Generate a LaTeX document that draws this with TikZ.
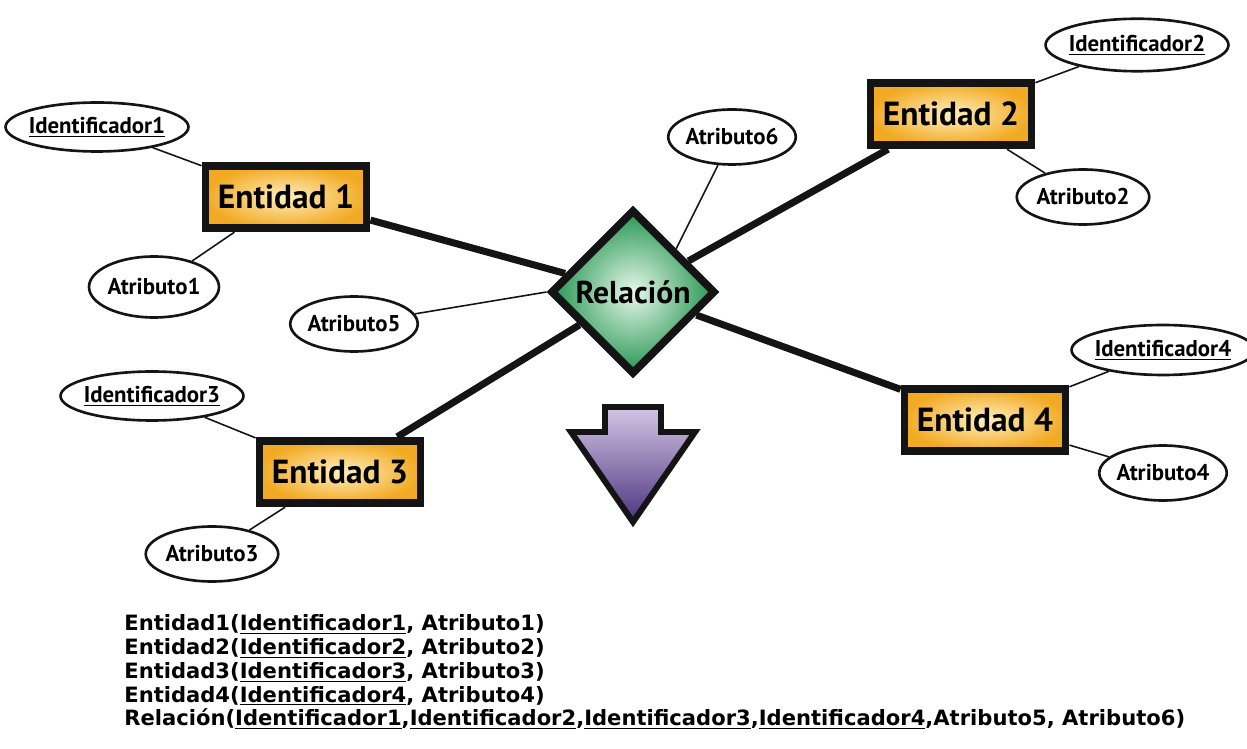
\documentclass[tikz,border=0pt]{standalone}
\usepackage{fontspec}
\usetikzlibrary{shapes.geometric, backgrounds, positioning}
\setmainfont{PT Sans}
\newfontfamily\listafont{DejaVu Sans}
\definecolor{borde}{RGB}{20,20,20}
\definecolor{entclaro}{RGB}{255,240,190}
\definecolor{entoscuro}{RGB}{242,170,36}
\definecolor{relclaro}{RGB}{230,247,234}
\definecolor{reloscuro}{RGB}{38,150,82}
\definecolor{flechaclara}{RGB}{212,198,230}
\definecolor{flechaoscura}{RGB}{76,52,128}

\tikzset{
  entidad/.style={rectangle, draw=borde, line width=4.5pt, inner color=entclaro,
                  outer color=entoscuro, minimum width=3.22cm, minimum height=1.25cm,
                  font=\fontsize{19}{22}\selectfont\bfseries},
  relacion/.style={diamond, draw=borde, line width=4.5pt, inner color=relclaro,
                   outer color=reloscuro, minimum width=3.3cm, minimum height=3.3cm,
                   inner sep=0pt, font=\fontsize{18}{20}\selectfont\bfseries},
  atributo/.style={ellipse, draw=borde, line width=1.5pt, fill=white,
                   inner xsep=-2pt, inner ysep=0pt,
                   font=\fontsize{13}{15}\selectfont\bfseries},
  enlace/.style={draw=borde, line width=4pt},
  rama/.style={draw=borde, line width=0.9pt},
}

\begin{document}
\begin{tikzpicture}[x=0.02cm, y=-0.02cm]
  \useasboundingbox (0,0) rectangle (1247,749);

  % entidades y relacion
  \node[entidad] (ent1) at (286,197) {Entidad 1};
  \node[entidad] (ent2) at (951,114) {Entidad 2};
  \node[entidad] (ent3) at (340,472) {Entidad 3};
  \node[entidad] (ent4) at (985,420) {Entidad 4};
  \node[relacion] (rel) at (633,292) {Relación};

  % atributos
  \node[atributo, minimum width=3.55cm, minimum height=0.98cm] (id1) at (97,127) {\underline{Identificador1}};
  \node[atributo, minimum width=2.6cm, minimum height=1.22cm] (at1) at (154,287) {Atributo1};
  \node[atributo, minimum width=3.2cm, minimum height=1.05cm] (id2) at (1137,45) {\underline{Identificador2}};
  \node[atributo, minimum width=2.65cm, minimum height=1.1cm] (at2) at (1083,197) {Atributo2};
  \node[atributo, minimum width=3.45cm, minimum height=0.98cm] (id3) at (152,396) {\underline{Identificador3}};
  \node[atributo, minimum width=2.65cm, minimum height=1.1cm] (at3) at (212,554) {Atributo3};
  \node[atributo, minimum width=3.25cm, minimum height=1.0cm] (id4) at (1163,350) {\underline{Identificador4}};
  \node[atributo, minimum width=2.55cm, minimum height=1.1cm] (at4) at (1163,473) {Atributo4};
  \node[atributo, minimum width=2.55cm, minimum height=1.1cm] (at5) at (354,324) {Atributo5};
  \node[atributo, minimum width=2.55cm, minimum height=1.1cm] (at6) at (732,137) {Atributo6};

  \begin{scope}[on background layer]
    \draw[enlace] (ent1) -- (rel);
    \draw[enlace] (ent2) -- (rel);
    \draw[enlace] (ent3) -- (rel);
    \draw[enlace] (ent4) -- (rel);
    \draw[rama] (id1) -- (ent1);
    \draw[rama] (at1) -- (ent1);
    \draw[rama] (id2) -- (ent2);
    \draw[rama] (at2) -- (ent2);
    \draw[rama] (id3) -- (ent3);
    \draw[rama] (at3) -- (ent3);
    \draw[rama] (id4) -- (ent4);
    \draw[rama] (at4) -- (ent4);
    \draw[rama] (at5) -- (rel.west);
    \draw[rama] (at6) -- (rel.north east);
  \end{scope}

  % flecha hacia abajo
  \draw[draw=borde, line width=3.4pt, line join=miter, top color=flechaclara, bottom color=flechaoscura]
    (605,407) -- (661,407) -- (661,432) -- (695,432) -- (633,522) -- (571,432) -- (605,432) -- cycle;

  % esquema relacional
  \node[anchor=north west, align=left, inner sep=0pt,
        font=\listafont\bfseries\fontsize{12}{13.6}\selectfont] (esquema) at (124,614)
    {Entidad1(\underline{Identificador1}, Atributo1)\\
     Entidad2(\underline{Identificador2}, Atributo2)\\
     Entidad3(\underline{Identificador3}, Atributo3)\\
     Entidad4(\underline{Identificador4}, Atributo4)\\
     Relación(\underline{Identificador1},\underline{Identificador2},\underline{Identificador3},\underline{Identificador4},Atributo5, Atributo6)};
\end{tikzpicture}
\end{document}
